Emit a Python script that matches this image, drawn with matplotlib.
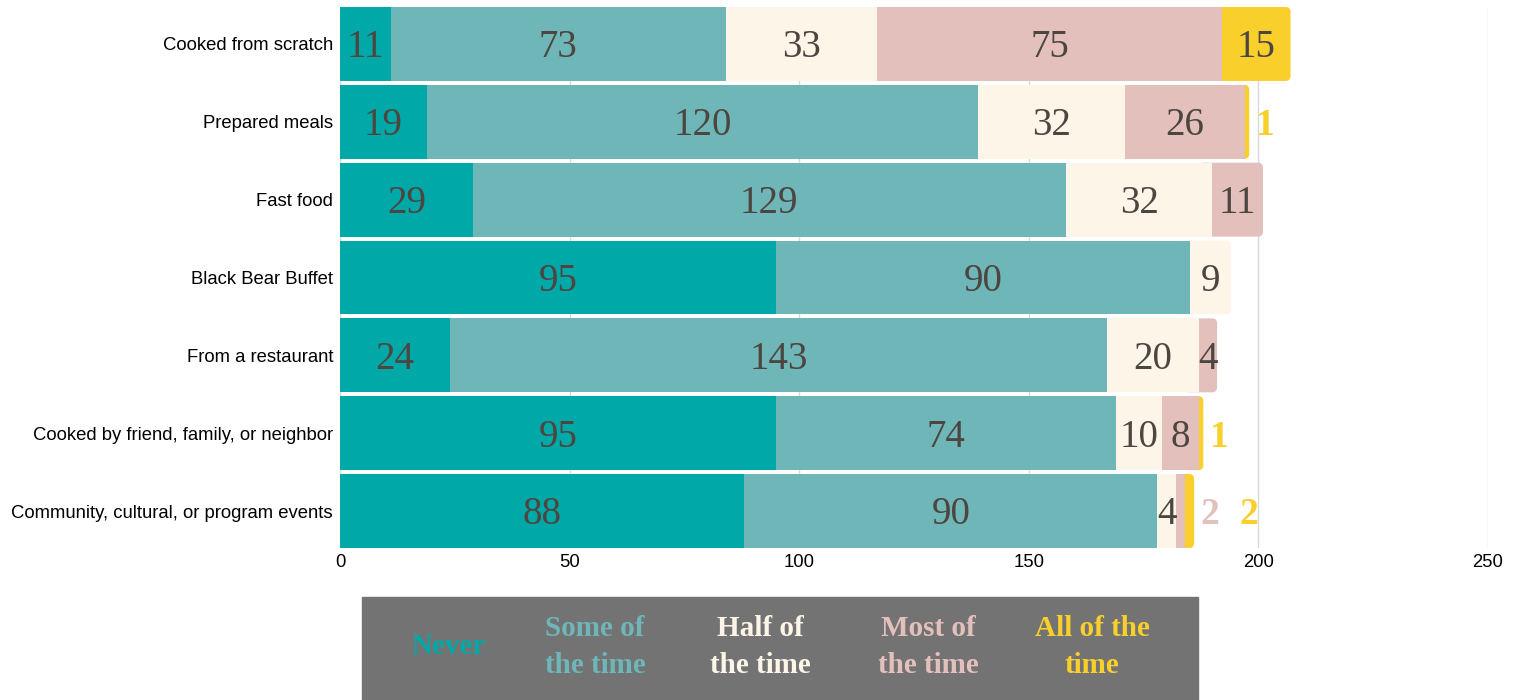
import numpy as np
import matplotlib
matplotlib.use("Agg")
import matplotlib.pyplot as plt
from matplotlib.patches import Rectangle, FancyBboxPatch

# Data
categories = ["Cooked from scratch", "Prepared meals", "Fast food", "Black Bear Buffet",
              "From a restaurant", "Cooked by friend, family, or neighbor",
              "Community, cultural, or program events"]
never = [11, 19, 29, 95, 24, 95, 88]
some = [73, 120, 129, 90, 143, 74, 90]
half = [33, 32, 32, 9, 20, 10, 4]
most = [75, 26, 11, 0, 4, 8, 2]
all_time = [15, 1, 0, 0, 0, 1, 2]
series_names = ["Never", "Some of\nthe time", "Half of\nthe time", "Most of\nthe time", "All of the\ntime"]
xticks = [0, 50, 100, 150, 200, 250]

colors = ["#00A8A8", "#6FB6B8", "#FDF5E8", "#E4C0BD", "#F9CF2B"]
txt_col = "#4D4540"
serif = ["Liberation Serif", "DejaVu Serif"]
sans = ["Liberation Sans", "DejaVu Sans"]
bar_h = 0.95

fig = plt.figure(figsize=(15.23, 7.0), dpi=100)
ax = fig.add_axes([340 / 1523, 1 - 548 / 700, (1488 - 340) / 1523, 541 / 700])

series = np.array([never, some, half, most, all_time], dtype=float)
y = np.arange(len(categories))
totals = series.sum(axis=0)
# index of the last non-empty segment in each row (gets rounded end)
last_idx = [max(k for k in range(len(series)) if series[k, i] > 0) for i in range(len(categories))]

# rounding in data units (about 5 px each way)
rx = 1.1
aspect = (5 / 77.9) / rx

left = np.zeros(len(categories))
small_count = np.zeros(len(categories))
for si, vals in enumerate(series):
    for i, v in enumerate(vals):
        if v == 0:
            continue
        if si == last_idx[i]:
            start = left[i] - 3 if si > 0 else left[i]
            ax.add_patch(FancyBboxPatch((start, y[i] - bar_h / 2), left[i] + v - start, bar_h,
                                        boxstyle=f"round,pad=0,rounding_size={rx}",
                                        mutation_aspect=aspect, facecolor=colors[si],
                                        edgecolor="none", zorder=1.8))
        else:
            ax.barh(y[i], v, left=left[i], height=bar_h, color=colors[si], zorder=2, linewidth=0)
        if v >= 3:
            ax.text(left[i] + v / 2, y[i] + 0.05, f"{int(v)}", ha="center", va="center",
                    fontsize=28, color=txt_col, family=serif, zorder=3)
        else:
            # tiny segments get their label outside the bar
            xpos = totals[i] + 3.5 + 8.5 * small_count[i]
            small_count[i] += 1
            ax.text(xpos, y[i] + 0.05, f"{int(v)}", ha="center", va="center",
                    fontsize=27, color=colors[si], family=serif,
                    fontweight="bold", zorder=3)
    left += vals

ax.set_xlim(0, 250)
ax.set_ylim(6.475, -0.475)
ax.set_yticks(y)
ax.set_yticklabels(categories, family=sans, fontsize=13.3)
ax.set_xticks(xticks)
ax.set_xticklabels([str(t) for t in xticks], family=sans, fontsize=13.3)
ax.tick_params(axis="y", length=0, pad=5)
ax.tick_params(axis="x", length=0, pad=4)
ax.grid(axis="x", color="#D9D9D9", linewidth=1, zorder=0)
ax.set_axisbelow(True)
for s in ax.spines.values():
    s.set_visible(False)

# legend box
fig.patches.append(Rectangle((362 / 1523, 0), (1198 - 362) / 1523, 103 / 700,
                             transform=fig.transFigure, color="#737373", zorder=0))
legend_x = [449, 595, 760, 928, 1092]
for name, col, lx in zip(series_names, colors, legend_x):
    fig.text(lx / 1523, 1 - 647 / 700, name, ha="center", va="center", color=col,
             family=serif, fontsize=21, fontweight="bold", linespacing=1.5)

fig.savefig("out.png", dpi=100)
